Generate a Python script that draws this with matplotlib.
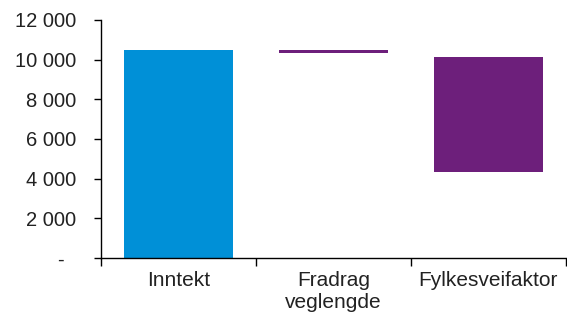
import matplotlib
matplotlib.use("Agg")
import matplotlib.pyplot as plt
from matplotlib.ticker import FuncFormatter, FixedLocator

plt.rcParams["font.family"] = ["Liberation Sans", "DejaVu Sans"]

categories = ["Inntekt", "Fradrag\nveglengde", "Fylkesveifaktor"]
bar_bottom = [0, 10330, 4340]
bar_top = [10500, 10480, 10140]
bar_colors = ["#0090D7", "#6D1F7B", "#6D1F7B"]
y_ticks = [0, 2000, 4000, 6000, 8000, 10000, 12000]

fig = plt.figure(figsize=(5.67, 3.21), dpi=100)
ax = fig.add_axes([0.178, 0.196, 0.820, 0.742])

x = list(range(len(categories)))
heights = [t - b for t, b in zip(bar_top, bar_bottom)]
ax.bar(x, heights, bottom=bar_bottom, width=0.7, color=bar_colors, linewidth=0)

ax.set_xlim(-0.5, len(categories) - 0.5)
ax.set_ylim(0, 12000)

def fmt(v, pos):
    if v == 0:
        return "-  "
    return f"{int(v):,}".replace(",", " ")

ax.yaxis.set_major_locator(FixedLocator(y_ticks))
ax.yaxis.set_major_formatter(FuncFormatter(fmt))
ax.tick_params(axis="y", direction="out", length=5, width=1, pad=13,
               labelsize=14.5, labelcolor="#222222")

ax.set_xticks(x)
ax.set_xticklabels(categories, fontsize=15, color="#222222", linespacing=1.2)
ax.set_xticks([i - 0.5 for i in range(len(categories) + 1)], minor=True)
ax.tick_params(axis="x", which="major", length=0, pad=9)
ax.tick_params(axis="x", which="minor", direction="out", length=6, width=1)

for side in ("top", "right"):
    ax.spines[side].set_visible(False)
for side in ("left", "bottom"):
    ax.spines[side].set_color("black")
    ax.spines[side].set_linewidth(1)

fig.savefig("out.png", dpi=100)
